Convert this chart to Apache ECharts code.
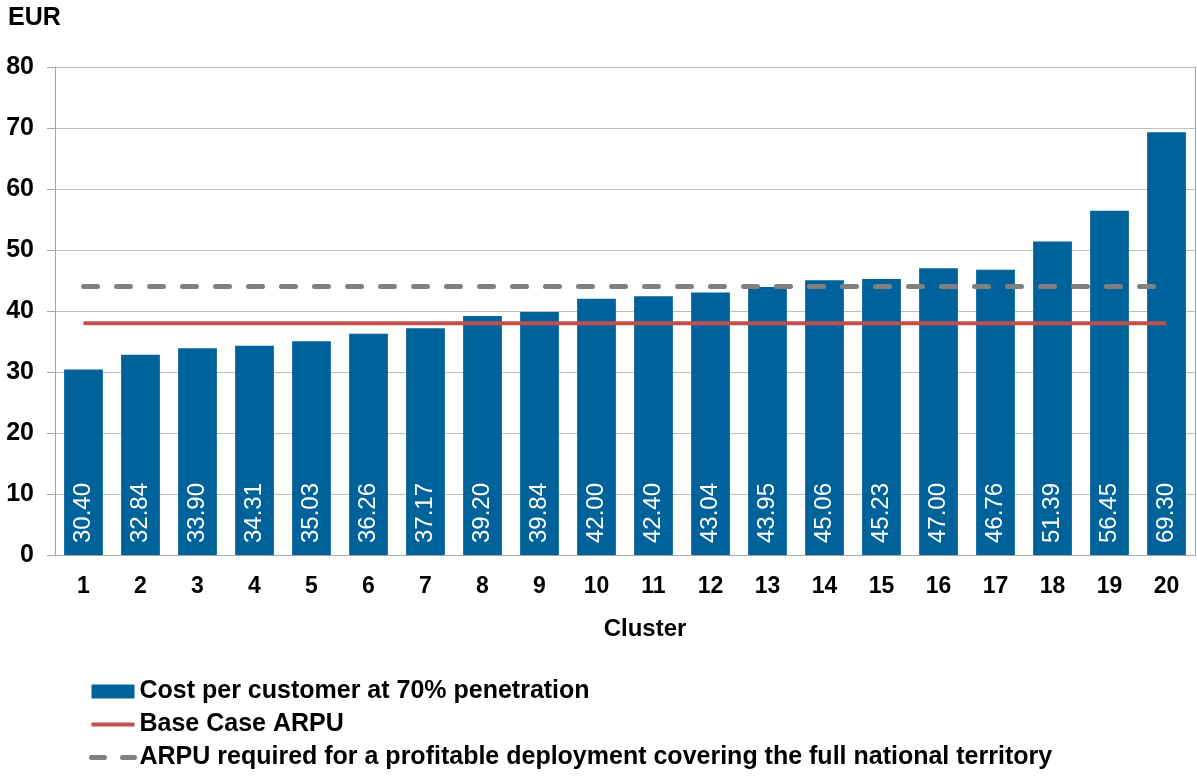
<!DOCTYPE html>
<html>
<head>
<meta charset="utf-8">
<title>Cost per customer by cluster</title>
<script src="https://cdn.jsdelivr.net/npm/echarts@6/dist/echarts.min.js"></script>
<style>
  html, body { margin: 0; padding: 0; background: #fff; }
  #chart { width: 1197px; height: 777px; }
</style>
</head>
<body>
<div id="chart"></div>
<script>
// chart data
var clusters = ['1', '2', '3', '4', '5', '6', '7', '8', '9', '10',
  '11', '12', '13', '14', '15', '16', '17', '18', '19', '20']
var costPerCustomer = [30.40, 32.84, 33.90, 34.31, 35.03, 36.26, 37.17, 39.20, 39.84, 42.00,
  42.40, 43.04, 43.95, 45.06, 45.23, 47.00, 46.76, 51.39, 56.45, 69.30]
var baseCaseArpu = [38, 38, 38, 38, 38, 38, 38, 38, 38, 38,
  38, 38, 38, 38, 38, 38, 38, 38, 38, 38]
var requiredArpu = [44, 44, 44, 44, 44, 44, 44, 44, 44, 44,
  44, 44, 44, 44, 44, 44, 44, 44, 44, 44]
var seriesNames = [
  'Cost per customer at 70% penetration',
  'Base Case ARPU',
  'ARPU required for a profitable deployment covering the full national territory'
]

var font = 'Liberation Sans, Arial, sans-serif'
var myChart = echarts.init(document.getElementById('chart'))

myChart.setOption({
  animation: false,
  textStyle: { fontFamily: font },
  grid: { left: 55, right: 2, top: 67, bottom: 222 },
  legend: {
    orient: 'vertical',
    left: 89,
    top: 679,
    padding: 0,
    itemWidth: 43,
    itemHeight: 14,
    itemGap: 8,
    itemTextGap: 6,
    itemStyle: { borderWidth: 0 },
    textStyle: { fontSize: 25, fontWeight: 'bold', color: '#000', lineHeight: 25 },
    data: [
      { name: seriesNames[0], icon: 'rect' },
      { name: seriesNames[1], itemStyle: { opacity: 0 }, lineStyle: { width: 4 } },
      { name: seriesNames[2], itemStyle: { opacity: 0 }, lineStyle: { width: 5, type: [13, 18], cap: 'round' } }
    ]
  },
  graphic: [
    {
      type: 'text',
      left: 8,
      top: 6,
      style: { text: 'EUR', font: 'bold 25px ' + font, fill: '#000' }
    },
    {
      type: 'text',
      x: 645,
      y: 629,
      style: { text: 'Cluster', font: 'bold 24px ' + font, fill: '#000', align: 'center', verticalAlign: 'middle' }
    }
  ],
  xAxis: {
    type: 'category',
    data: clusters,
    axisLine: { lineStyle: { color: '#a6a6a6', width: 1 } },
    axisTick: { show: false },
    axisLabel: { fontSize: 23, fontWeight: 'bold', color: '#000', margin: 20 }
  },
  yAxis: [
    {
      type: 'value',
      min: 0,
      max: 80,
      interval: 10,
      axisLine: { show: true, lineStyle: { color: '#a6a6a6', width: 1 } },
      axisTick: { show: true, length: 8, lineStyle: { color: '#a6a6a6' } },
      splitLine: { lineStyle: { color: '#bfbfbf', width: 1 } },
      axisLabel: { fontSize: 25, fontWeight: 'bold', color: '#000', margin: 21 }
    },
    {
      type: 'value',
      position: 'right',
      min: 0,
      max: 80,
      interval: 10,
      axisLine: { show: true, lineStyle: { color: '#a6a6a6', width: 1 } },
      axisTick: { show: false },
      splitLine: { show: false },
      axisLabel: { show: false }
    }
  ],
  series: [
    {
      name: seriesNames[0],
      type: 'bar',
      data: costPerCustomer,
      barWidth: '68%',
      itemStyle: { color: '#00629b' },
      label: {
        show: true,
        position: 'insideBottom',
        distance: 12,
        rotate: 90,
        align: 'left',
        verticalAlign: 'middle',
        color: '#fff',
        fontSize: 24,
        formatter: function (p) { return p.value.toFixed(2) }
      }
    },
    {
      name: seriesNames[1],
      type: 'line',
      data: baseCaseArpu,
      symbol: 'none',
      lineStyle: { color: '#c0504d', width: 4 },
      itemStyle: { color: '#c0504d' }
    },
    {
      name: seriesNames[2],
      type: 'line',
      data: requiredArpu,
      symbol: 'none',
      lineStyle: { color: '#808080', width: 5, type: [14, 19], cap: 'round' },
      itemStyle: { color: '#808080' }
    }
  ]
})
</script>
</body>
</html>
